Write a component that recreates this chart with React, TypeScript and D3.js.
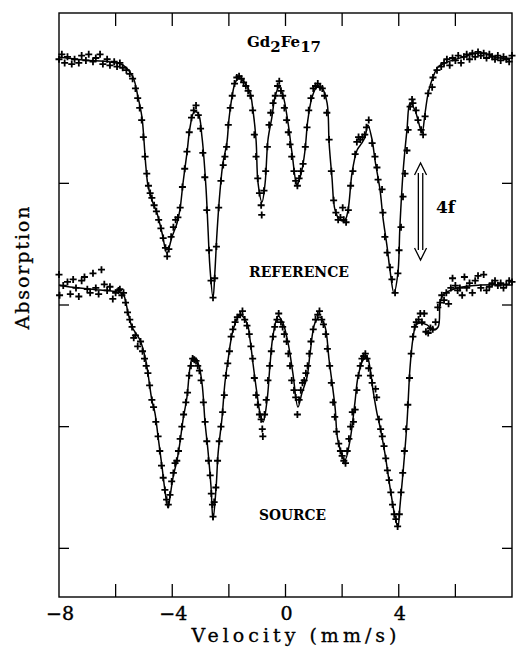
import React from "react";
import * as d3 from "d3";

// ---- axes ----
const xDomain: [number, number] = [-8, 8];
const yDomain: [number, number] = [-0.4, 4.4];
const xTicks = [-6, -4, -2, 0, 2, 4, 6];
const xTickLabels = [-8, -4, 0, 4];
const yTicks = [0, 1, 2, 3];

// ---- fitted curves (velocity mm/s, absorption a.u.) ----
const refFit: [number, number][] = [
  [-8.0, 4.038], [-7.15, 4.013], [-6.2, 3.997], [-5.74, 3.972], [-5.39, 3.874], [-5.21, 3.709],
  [-5.07, 3.545], [-5.0, 3.356], [-4.93, 3.134], [-4.86, 2.986], [-4.72, 2.863], [-4.54, 2.756],
  [-4.36, 2.592], [-4.19, 2.427], [-4.01, 2.559], [-3.83, 2.674], [-3.73, 2.781], [-3.62, 3.003],
  [-3.48, 3.25], [-3.37, 3.463], [-3.23, 3.586], [-3.09, 3.578], [-2.95, 3.381], [-2.81, 2.97],
  [-2.74, 2.641], [-2.67, 2.312], [-2.56, 2.057], [-2.49, 2.287], [-2.42, 2.592], [-2.31, 2.945],
  [-2.21, 3.167], [-2.07, 3.332], [-2.0, 3.521], [-1.89, 3.709], [-1.78, 3.824], [-1.64, 3.865],
  [-1.43, 3.824], [-1.25, 3.742], [-1.15, 3.603], [-1.04, 3.356], [-0.97, 3.003], [-0.83, 2.846],
  [-0.72, 3.003], [-0.62, 3.356], [-0.48, 3.545], [-0.37, 3.709], [-0.23, 3.791], [-0.09, 3.725],
  [0.09, 3.496], [0.23, 3.25], [0.41, 2.986], [0.58, 3.109], [0.69, 3.274], [0.79, 3.521],
  [0.94, 3.709], [1.11, 3.791], [1.29, 3.783], [1.47, 3.66], [1.54, 3.332], [1.64, 3.052],
  [1.75, 2.781], [1.93, 2.698], [2.1, 2.698], [2.21, 2.781], [2.35, 3.085], [2.53, 3.274],
  [2.7, 3.332], [2.81, 3.381], [2.91, 3.48], [3.06, 3.356], [3.16, 3.192], [3.34, 2.945],
  [3.44, 2.723], [3.59, 2.476], [3.69, 2.287], [3.83, 2.099], [3.97, 2.263], [4.04, 2.641],
  [4.15, 3.085], [4.29, 3.439], [4.4, 3.66], [4.57, 3.603], [4.68, 3.521], [4.82, 3.414],
  [4.93, 3.578], [5.04, 3.742], [5.21, 3.874], [5.39, 3.956], [5.63, 3.989], [6.16, 4.03],
  [6.87, 4.071], [7.58, 4.03], [8.0, 4.03],
];

const srcFit: [number, number][] = [
  [-8.0, 2.164], [-7.61, 2.148], [-6.55, 2.123], [-5.95, 2.107], [-5.74, 2.09], [-5.56, 1.934],
  [-5.42, 1.819], [-5.14, 1.712], [-4.96, 1.573], [-4.86, 1.441], [-4.72, 1.219], [-4.61, 1.112],
  [-4.5, 0.915], [-4.36, 0.668], [-4.26, 0.479], [-4.15, 0.331], [-4.08, 0.422], [-3.97, 0.586],
  [-3.83, 0.726], [-3.73, 0.866], [-3.62, 1.055], [-3.48, 1.244], [-3.37, 1.49], [-3.27, 1.573],
  [-3.09, 1.523], [-2.95, 1.359], [-2.84, 1.03], [-2.74, 0.808], [-2.63, 0.504], [-2.56, 0.233],
  [-2.45, 0.504], [-2.38, 0.783], [-2.24, 1.079], [-2.14, 1.359], [-2.03, 1.548], [-1.85, 1.795],
  [-1.61, 1.918], [-1.36, 1.852], [-1.25, 1.712], [-1.15, 1.523], [-1.01, 1.277], [-0.9, 1.112],
  [-0.79, 1.038], [-0.65, 1.219], [-0.55, 1.5], [-0.44, 1.75], [-0.26, 1.91], [-0.09, 1.852],
  [0.09, 1.688], [0.26, 1.441], [0.44, 1.161], [0.58, 1.277], [0.76, 1.408], [0.87, 1.606],
  [1.04, 1.852], [1.22, 1.902], [1.4, 1.819], [1.54, 1.548], [1.75, 1.161], [1.85, 0.89],
  [2.1, 0.726], [2.28, 0.89], [2.45, 1.194], [2.56, 1.408], [2.74, 1.548], [2.88, 1.573],
  [2.98, 1.49], [3.09, 1.302], [3.23, 1.112], [3.34, 0.997], [3.51, 0.783], [3.69, 0.504],
  [3.87, 0.257], [3.97, 0.175], [4.04, 0.339], [4.15, 0.619], [4.29, 1.03], [4.4, 1.49],
  [4.5, 1.721], [4.61, 1.836], [4.75, 1.852], [5.0, 1.836], [5.21, 1.795], [5.39, 1.819],
  [5.46, 2.015], [5.56, 2.082], [6.06, 2.14], [6.87, 2.164], [8.0, 2.164],
];

// ---- measured points ----
const refPoints: [number, number][] = [
  [-8.0, 4.02], [-7.9, 4.06], [-7.8, 3.99], [-7.7, 4.04], [-7.55, 3.98], [-7.45, 4.02], [-7.3, 3.99],
  [-7.2, 4.05], [-7.05, 4.01], [-6.95, 4.06], [-6.8, 4.0], [-6.7, 4.03], [-6.55, 4.06], [-6.45, 3.98],
  [-6.3, 4.02], [-6.2, 3.97], [-6.05, 4.0], [-5.95, 3.96], [-5.85, 3.99], [-5.75, 3.95], [-5.62, 3.93],
  [-5.5, 3.9], [-5.4, 3.86], [-5.3, 3.78], [-5.22, 3.7], [-5.15, 3.62], [-5.08, 3.52], [-5.02, 3.38],
  [-4.96, 3.22], [-4.9, 3.08], [-4.84, 2.98], [-4.78, 2.92], [-4.72, 2.88], [-4.64, 2.82], [-4.56, 2.77],
  [-4.48, 2.7], [-4.4, 2.63], [-4.32, 2.55], [-4.24, 2.47], [-4.18, 2.4], [-4.12, 2.46], [-4.04, 2.56],
  [-3.96, 2.64], [-3.88, 2.7], [-3.8, 2.72], [-3.72, 2.8], [-3.64, 2.97], [-3.56, 3.12], [-3.48, 3.26],
  [-3.4, 3.42], [-3.32, 3.54], [-3.24, 3.6], [-3.16, 3.64], [-3.08, 3.56], [-3.0, 3.45], [-2.92, 3.25],
  [-2.85, 3.05], [-2.78, 2.78], [-2.7, 2.45], [-2.63, 2.2], [-2.56, 2.06], [-2.5, 2.22], [-2.44, 2.48],
  [-2.36, 2.8], [-2.28, 3.02], [-2.2, 3.15], [-2.14, 3.22], [-2.08, 3.3], [-2.02, 3.48], [-1.95, 3.62],
  [-1.88, 3.72], [-1.8, 3.82], [-1.72, 3.87], [-1.64, 3.88], [-1.56, 3.86], [-1.48, 3.83], [-1.4, 3.8],
  [-1.32, 3.76], [-1.24, 3.72], [-1.16, 3.6], [-1.1, 3.4], [-1.04, 3.22], [-0.98, 3.04], [-0.92, 2.92],
  [-0.86, 2.82], [-0.84, 2.74], [-0.76, 2.94], [-0.7, 3.1], [-0.64, 3.3], [-0.58, 3.48], [-0.52, 3.58],
  [-0.44, 3.66], [-0.36, 3.72], [-0.28, 3.8], [-0.22, 3.84], [-0.16, 3.76], [-0.1, 3.72], [-0.04, 3.62],
  [0.04, 3.52], [0.1, 3.42], [0.16, 3.32], [0.22, 3.22], [0.3, 3.1], [0.36, 3.02], [0.42, 2.98],
  [0.48, 3.04], [0.54, 3.1], [0.62, 3.16], [0.7, 3.3], [0.76, 3.46], [0.82, 3.6], [0.9, 3.7],
  [0.98, 3.78], [1.06, 3.8], [1.14, 3.82], [1.22, 3.79], [1.3, 3.78], [1.38, 3.72], [1.46, 3.58],
  [1.54, 3.36], [1.62, 3.1], [1.7, 2.86], [1.78, 2.76], [1.86, 2.7], [1.94, 2.72], [2.02, 2.8],
  [2.06, 2.7], [2.14, 2.68], [2.22, 2.78], [2.3, 2.98], [2.38, 3.1], [2.46, 3.24], [2.52, 3.34],
  [2.58, 3.38], [2.64, 3.36], [2.72, 3.38], [2.8, 3.4], [2.86, 3.46], [2.94, 3.52], [3.06, 3.33],
  [3.16, 3.22], [3.23, 3.13], [3.27, 3.03], [3.41, 2.95], [3.44, 2.76], [3.51, 2.56], [3.59, 2.43],
  [3.69, 2.31], [3.76, 2.21], [3.87, 2.1], [3.97, 2.26], [4.01, 2.45], [4.08, 2.64], [4.15, 2.89],
  [4.22, 3.08], [4.29, 3.27], [4.33, 3.44], [4.4, 3.63], [4.47, 3.69], [4.5, 3.66], [4.61, 3.6],
  [4.68, 3.52], [4.79, 3.44], [4.86, 3.4], [4.93, 3.55], [5.04, 3.74], [5.18, 3.79], [5.21, 3.87],
  [5.35, 3.93], [5.5, 3.96], [5.6, 3.99], [5.7, 4.02], [5.8, 3.97], [5.9, 4.03], [6.0, 4.01],
  [6.1, 4.05], [6.2, 3.99], [6.3, 4.04], [6.4, 4.06], [6.5, 4.02], [6.6, 4.07], [6.7, 4.04],
  [6.8, 4.08], [6.9, 4.05], [7.0, 4.07], [7.1, 4.03], [7.2, 4.06], [7.3, 4.04], [7.4, 4.02],
  [7.5, 4.05], [7.6, 4.01], [7.7, 4.04], [7.8, 4.02], [7.9, 4.0], [8.0, 4.05],
];

const srcPoints: [number, number][] = [
  [-8.0, 2.25], [-7.98, 2.08], [-7.85, 2.16], [-7.7, 2.19], [-7.6, 2.09], [-7.5, 2.21], [-7.4, 2.14],
  [-7.3, 2.07], [-7.2, 2.2], [-7.1, 2.23], [-7.0, 2.13], [-6.9, 2.1], [-6.8, 2.26], [-6.7, 2.14],
  [-6.6, 2.09], [-6.5, 2.29], [-6.4, 2.17], [-6.3, 2.12], [-6.2, 2.15], [-6.1, 2.05], [-6.0, 2.1],
  [-5.9, 2.12], [-5.85, 2.13], [-5.78, 2.08], [-5.72, 2.1], [-5.65, 2.02], [-5.58, 1.94], [-5.5, 1.88],
  [-5.42, 1.82], [-5.36, 1.73], [-5.3, 1.75], [-5.22, 1.66], [-5.12, 1.7], [-5.05, 1.62], [-4.98, 1.56],
  [-4.92, 1.5], [-4.86, 1.44], [-4.8, 1.34], [-4.72, 1.22], [-4.66, 1.16], [-4.58, 1.04], [-4.5, 0.92],
  [-4.44, 0.8], [-4.38, 0.68], [-4.32, 0.58], [-4.26, 0.48], [-4.2, 0.4], [-4.14, 0.36], [-4.08, 0.44],
  [-4.02, 0.55], [-3.96, 0.62], [-3.9, 0.7], [-3.84, 0.72], [-3.78, 0.8], [-3.72, 0.9], [-3.66, 1.0],
  [-3.6, 1.1], [-3.52, 1.2], [-3.46, 1.28], [-3.4, 1.42], [-3.34, 1.5], [-3.28, 1.56], [-3.22, 1.55],
  [-3.16, 1.54], [-3.1, 1.5], [-3.04, 1.46], [-2.98, 1.38], [-2.9, 1.2], [-2.84, 1.04], [-2.78, 0.88],
  [-2.72, 0.72], [-2.66, 0.6], [-2.62, 0.45], [-2.58, 0.36], [-2.56, 0.26], [-2.52, 0.38], [-2.46, 0.5],
  [-2.4, 0.72], [-2.34, 0.88], [-2.28, 1.0], [-2.22, 1.12], [-2.16, 1.26], [-2.1, 1.42], [-2.04, 1.52],
  [-1.98, 1.62], [-1.92, 1.74], [-1.86, 1.8], [-1.78, 1.86], [-1.7, 1.9], [-1.6, 1.92], [-1.52, 1.95],
  [-1.44, 1.88], [-1.36, 1.83], [-1.28, 1.76], [-1.22, 1.66], [-1.16, 1.56], [-1.1, 1.4], [-1.04, 1.26],
  [-0.98, 1.18], [-0.92, 1.1], [-0.86, 1.06], [-0.82, 0.98], [-0.8, 0.92], [-0.74, 1.1], [-0.68, 1.22],
  [-0.62, 1.38], [-0.56, 1.5], [-0.5, 1.62], [-0.44, 1.74], [-0.38, 1.82], [-0.3, 1.88], [-0.24, 1.93],
  [-0.16, 1.86], [-0.1, 1.82], [-0.04, 1.76], [0.04, 1.7], [0.1, 1.6], [0.16, 1.5], [0.22, 1.38],
  [0.3, 1.3], [0.36, 1.24], [0.42, 1.1], [0.48, 1.22], [0.54, 1.3], [0.6, 1.36], [0.66, 1.38],
  [0.72, 1.44], [0.78, 1.5], [0.84, 1.6], [0.9, 1.7], [0.98, 1.8], [1.06, 1.88], [1.14, 1.92],
  [1.2, 1.95], [1.28, 1.88], [1.34, 1.84], [1.42, 1.76], [1.48, 1.64], [1.56, 1.5], [1.62, 1.36],
  [1.68, 1.2], [1.74, 1.08], [1.8, 0.96], [1.88, 0.86], [1.94, 0.8], [2.0, 0.76], [2.06, 0.72],
  [2.12, 0.7], [2.18, 0.8], [2.24, 0.9], [2.3, 1.0], [2.36, 1.12], [2.4, 1.04], [2.46, 1.14],
  [2.52, 1.3], [2.58, 1.42], [2.64, 1.5], [2.7, 1.56], [2.76, 1.58], [2.82, 1.6], [2.88, 1.56],
  [2.94, 1.48], [3.0, 1.42], [3.06, 1.36], [3.18, 1.31], [3.22, 1.24], [3.3, 1.06], [3.36, 0.98],
  [3.42, 0.92], [3.48, 0.84], [3.54, 0.74], [3.6, 0.64], [3.66, 0.56], [3.72, 0.46], [3.78, 0.36],
  [3.84, 0.28], [3.9, 0.24], [3.96, 0.18], [4.02, 0.28], [4.08, 0.46], [4.14, 0.62], [4.2, 0.8],
  [4.26, 0.98], [4.32, 1.18], [4.38, 1.4], [4.44, 1.6], [4.5, 1.74], [4.56, 1.82], [4.62, 1.86],
  [4.7, 1.88], [4.76, 1.93], [4.82, 1.86], [4.9, 1.93], [4.96, 1.78], [5.04, 1.77], [5.12, 1.81],
  [5.2, 1.8], [5.3, 1.86], [5.38, 1.98], [5.46, 2.02], [5.52, 2.08], [5.6, 2.04], [5.68, 2.1],
  [5.76, 2.01], [5.84, 2.14], [5.9, 2.22], [6.0, 2.16], [6.08, 2.12], [6.16, 2.14], [6.24, 2.08],
  [6.32, 2.23], [6.4, 2.14], [6.5, 2.18], [6.6, 2.1], [6.7, 2.2], [6.8, 2.24], [6.9, 2.14],
  [7.0, 2.25], [7.1, 2.12], [7.2, 2.15], [7.3, 2.18], [7.4, 2.2], [7.5, 2.16], [7.6, 2.18],
  [7.7, 2.14], [7.8, 2.17], [7.9, 2.2], [8.0, 2.19],
];

// scale bar "4f"
const barV = 4.77;
const barTop = 3.167;
const barBottom = 2.37;

const W = 518;
const H = 647;
const M = { left: 59, right: 6, top: 13, bottom: 50 };
const FONT = "'DejaVu Serif', 'Liberation Serif', serif";

export default function App() {
  const x = d3.scaleLinear().domain(xDomain).range([M.left, W - M.right]);
  const y = d3.scaleLinear().domain(yDomain).range([H - M.bottom, M.top]);
  const line = d3
    .line<[number, number]>()
    .x((d) => x(d[0]))
    .y((d) => y(d[1]))
    .curve(d3.curveCatmullRom.alpha(0.5));

  const x0 = M.left, x1 = W - M.right, y0 = M.top, y1 = H - M.bottom;
  const plus = (pts: [number, number][], key: string) =>
    pts.map((d, i) => {
      const px = x(d[0]), py = y(d[1]);
      return (
        <path
          key={key + i}
          d={`M${px - 3.5},${py}H${px + 3.5}M${px},${py - 3.5}V${py + 3.5}`}
          stroke="#000"
          strokeWidth={1.8}
        />
      );
    });

  const bx = x(barV), byT = y(barTop), byB = y(barBottom);

  return (
    <svg width={W} height={H} style={{ position: "absolute", left: 0, top: 0, background: "#fff" }}>
      <rect x={0} y={0} width={W} height={H} fill="#fff" />
      {/* frame */}
      <rect x={x0} y={y0} width={x1 - x0} height={y1 - y0} fill="none" stroke="#000" strokeWidth={1.4} />
      {xTicks.map((t) => (
        <g key={"xt" + t}>
          <line x1={x(t)} x2={x(t)} y1={y1} y2={y1 - 13} stroke="#000" strokeWidth={1.3} />
          <line x1={x(t)} x2={x(t)} y1={y0} y2={y0 + 13} stroke="#000" strokeWidth={1.3} />
        </g>
      ))}
      {yTicks.map((t) => (
        <g key={"yt" + t}>
          <line x1={x0} x2={x0 + 10} y1={y(t)} y2={y(t)} stroke="#000" strokeWidth={1.3} />
          <line x1={x1} x2={x1 - 10} y1={y(t)} y2={y(t)} stroke="#000" strokeWidth={1.3} />
        </g>
      ))}
      {xTickLabels.map((t) => (
        <text key={"xl" + t} x={x(t) + 1} y={620} textAnchor="middle" fontFamily={FONT} fontSize={19}
          stroke="#000" strokeWidth={0.4}>
          {t < 0 ? "\u2212" + Math.abs(t) : String(t)}
        </text>
      ))}
      <text x={294} y={642} textAnchor="middle" fontFamily={FONT} fontSize={19} textLength={205}
        lengthAdjust="spacing" stroke="#000" strokeWidth={0.3}>
        Velocity (mm/s)
      </text>
      <text
        transform="translate(29,268) rotate(-90)"
        textAnchor="middle"
        fontFamily={FONT}
        fontSize={19}
        textLength={123}
        lengthAdjust="spacing"
        stroke="#000"
        strokeWidth={0.3}
      >
        Absorption
      </text>

      {/* curves */}
      <path d={line(refFit) || ""} fill="none" stroke="#000" strokeWidth={1.5} />
      <path d={line(srcFit) || ""} fill="none" stroke="#000" strokeWidth={1.5} />
      {plus(refPoints, "r")}
      {plus(srcPoints, "s")}

      {/* annotations */}
      <text x={247} y={47} fontFamily={FONT} fontSize={15} fontWeight="bold">
        Gd<tspan dy={5}>2</tspan><tspan dy={-5}>Fe</tspan><tspan dy={5}>17</tspan>
      </text>
      <text x={299} y={277} textAnchor="middle" fontFamily={FONT} fontSize={14} fontWeight="bold" textLength={100} lengthAdjust="spacingAndGlyphs">
        REFERENCE
      </text>
      <text x={292.5} y={520} textAnchor="middle" fontFamily={FONT} fontSize={14} fontWeight="bold" textLength={67} lengthAdjust="spacingAndGlyphs">
        SOURCE
      </text>
      <path
        d={`M${bx - 2.2},${byT + 10}V${byB - 10}M${bx + 2.2},${byT + 10}V${byB - 10}` +
          `M${bx - 6},${byT + 12}L${bx},${byT}L${bx + 6},${byT + 12}` +
          `M${bx - 6},${byB - 12}L${bx},${byB}L${bx + 6},${byB - 12}`}
        fill="none"
        stroke="#000"
        strokeWidth={1.3}
      />
      <text x={436} y={213} fontFamily={FONT} fontSize={17} fontWeight="bold">
        4f
      </text>
    </svg>
  );
}
